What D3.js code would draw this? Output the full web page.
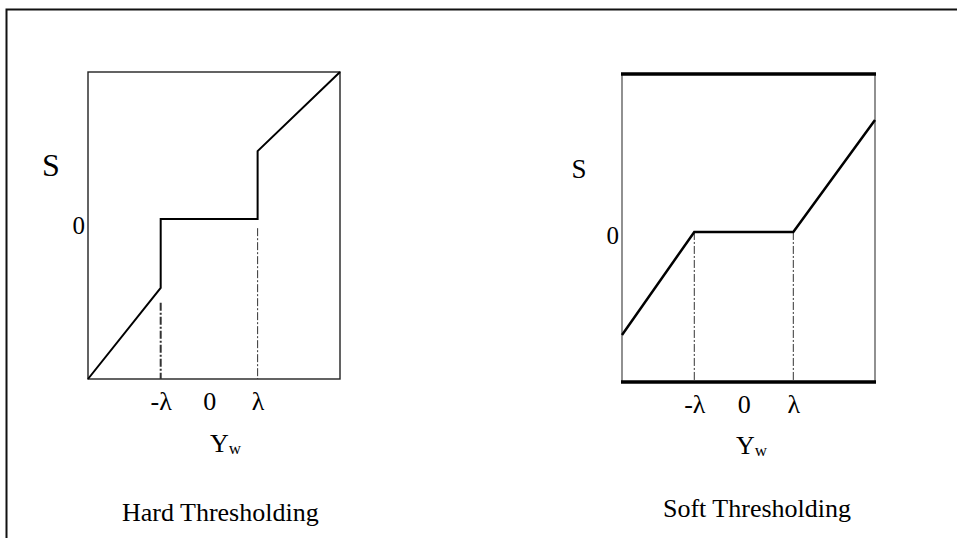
<!DOCTYPE html>
<html>
<head>
<meta charset="utf-8">
<script src="https://cdn.jsdelivr.net/npm/d3@7"></script>
<style>
  html, body { margin: 0; padding: 0; background: #fff; }
  svg { display: block; }
  text { font-family: "Liberation Serif", "Times New Roman", serif; fill: #000; }
</style>
</head>
<body>
<svg id="chart" width="957" height="538"></svg>
<script>
// ---- data (λ = 1 unit) ----
const tickValues = [-1, 0, 1];
const tickLabels = ["-λ", "0", "λ"];
const yTickValues = [0];
const yTickLabels = ["0"];

const hardX = [-2.5, -1, -1, 1, 1, 2.7];
const hardY = [-3.3, -1.42, 0, 0, 1.4, 3.03];
const hardGuideX = [-1, 1];
const hardGuideTop = [-1.73, -0.19];

const softX = [-2.46, -1, 1, 2.65];
const softY = [-2.08, 0, 0, 2.26];
const softGuideX = [-1, 1];
const softGuideTop = [0, 0];

const titles = ["Hard Thresholding", "Soft Thresholding"];

// ---- drawing ----
const svg = d3.select("#chart");

// outer frame (left + top)
svg.append("path")
  .attr("d", "M6.5,538 V9.5 H957")
  .attr("fill", "none").attr("stroke", "#111").attr("stroke-width", 2);

const panels = [
  { xs: hardX, ys: hardY, gx: hardGuideX, gt: hardGuideTop,
    xr: [88, 340], yr: [379, 72], xd: [-2.5, 2.7], yd: [-3.3, 3.03],
    lineW: 2, guideW: [2, 1],
    sX: 51, sY: 176, sSize: 32, zeroDy: "0.58em",
    ywX: 210, ywY: 452, title: titles[0], tX: 122, tY: 521, tickPad: 13,
    box: "thin" },
  { xs: softX, ys: softY, gx: softGuideX, gt: softGuideTop,
    xr: [622, 875], yr: [382, 74], xd: [-2.46, 2.65], yd: [-3.03, 3.19],
    lineW: 2.5, guideW: [1, 1],
    sX: 579, sY: 178, sSize: 27, zeroDy: "0.46em",
    ywX: 736, ywY: 454, title: titles[1], tX: 663, tY: 517, tickPad: 13,
    box: "thick" }
];

panels.forEach(p => {
  const x = d3.scaleLinear().domain(p.xd).range(p.xr);
  const y = d3.scaleLinear().domain(p.yd).range(p.yr);
  const g = svg.append("g");

  // box
  if (p.box === "thin") {
    g.append("rect")
      .attr("x", p.xr[0]).attr("y", p.yr[1])
      .attr("width", p.xr[1] - p.xr[0]).attr("height", p.yr[0] - p.yr[1])
      .attr("fill", "none").attr("stroke", "#222").attr("stroke-width", 1.4);
  } else {
    [p.xr[0], p.xr[1]].forEach(xx => {
      g.append("line").attr("x1", xx).attr("x2", xx)
        .attr("y1", p.yr[1]).attr("y2", p.yr[0])
        .attr("stroke", "#555").attr("stroke-width", 1.3);
    });
    [p.yr[0], p.yr[1]].forEach(yy => {
      g.append("line").attr("x1", p.xr[0] - 1).attr("x2", p.xr[1] + 1)
        .attr("y1", yy).attr("y2", yy)
        .attr("stroke", "#000").attr("stroke-width", 3.5);
    });
  }

  // dash-dot guides
  p.gx.forEach((gx, i) => {
    g.append("line")
      .attr("x1", x(gx)).attr("x2", x(gx))
      .attr("y1", y(p.gt[i])).attr("y2", p.yr[0])
      .attr("stroke", "#333").attr("stroke-width", p.guideW[i])
      .attr("stroke-dasharray", "8,2,2,2");
  });

  // thresholding curve
  const pts = p.xs.map((v, i) => [v, p.ys[i]]);
  g.append("path")
    .attr("d", d3.line().x(d => x(d[0])).y(d => y(d[1]))(pts))
    .attr("fill", "none").attr("stroke", "#000")
    .attr("stroke-width", p.lineW).attr("stroke-linejoin", "miter");

  // x axis tick labels
  const xa = g.append("g")
    .attr("transform", `translate(0,${p.yr[0]})`)
    .call(d3.axisBottom(x).tickValues(tickValues)
      .tickFormat((d, i) => tickLabels[i]).tickSize(0).tickPadding(p.tickPad));
  xa.select(".domain").remove();
  xa.selectAll("text").attr("font-size", 26)
    .attr("font-family", "Liberation Serif").attr("fill", "#000");

  // y axis "0" label
  const ya = g.append("g")
    .attr("transform", `translate(${p.xr[0]},0)`)
    .call(d3.axisLeft(y).tickValues(yTickValues)
      .tickFormat((d, i) => yTickLabels[i]).tickSize(0).tickPadding(3));
  ya.select(".domain").remove();
  ya.selectAll("text").attr("font-size", 25).attr("dy", p.zeroDy)
    .attr("font-family", "Liberation Serif").attr("fill", "#000");

  // S label
  g.append("text").attr("x", p.sX).attr("y", p.sY)
    .attr("text-anchor", "middle").attr("font-size", p.sSize).text("S");

  // Y_w label
  const t = g.append("text").attr("x", p.ywX).attr("y", p.ywY).attr("font-size", 26);
  t.append("tspan").text("Y");
  t.append("tspan").attr("font-size", 17).attr("dy", 2).text("w");

  // title
  g.append("text").attr("x", p.tX).attr("y", p.tY)
    .attr("font-size", 26).text(p.title);
});
</script>
</body>
</html>
